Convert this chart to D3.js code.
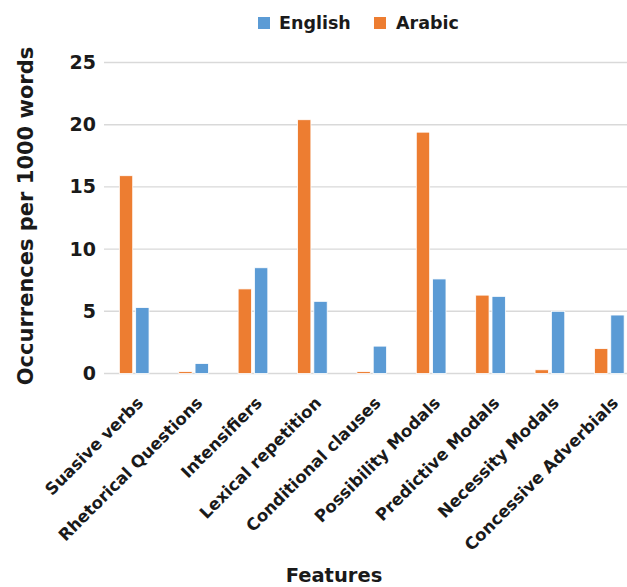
<!DOCTYPE html>
<html>
<head>
<meta charset="utf-8">
<script src="https://cdn.jsdelivr.net/npm/d3@7"></script>
<style>
  body { margin: 0; background: #fff; }
  svg { display: block; font-family: "DejaVu Sans", sans-serif; }
</style>
</head>
<body>
<svg id="chart" width="627" height="587"></svg>
<script>
const features = ['Suasive verbs', 'Rhetorical Questions', 'Intensifiers', 'Lexical repetition',
  'Conditional clauses', 'Possibility Modals', 'Predictive Modals', 'Necessity Modals', 'Concessive Adverbials'];
const arabic = [15.9, 0.15, 6.8, 20.4, 0.15, 19.4, 6.3, 0.3, 2.0];
const english = [5.3, 0.8, 8.5, 5.8, 2.2, 7.6, 6.2, 5.0, 4.7];
const yTicks = [0, 5, 10, 15, 20, 25];
const seriesNames = ['Arabic', 'English'];
const colors = { English: '#5B9BD5', Arabic: '#ED7D31' };

const svg = d3.select('#chart');

const x0 = d3.scaleBand().domain(features).range([104.5, 639]).paddingInner(0.5).paddingOuter(0.25);
const x1 = d3.scaleBand().domain(seriesNames).range([0, x0.bandwidth()]).paddingInner(0.18);
const y = d3.scaleLinear().domain([0, 25]).range([373.5, 62.5]);

// gridlines
svg.append('g')
  .selectAll('line')
  .data(yTicks)
  .enter()
  .append('line')
  .attr('x1', 104)
  .attr('x2', 627)
  .attr('y1', d => y(d))
  .attr('y2', d => y(d))
  .attr('stroke', '#d9d9d9')
  .attr('stroke-width', 1.4);

// y tick labels
const yAxis = svg.append('g')
  .attr('transform', 'translate(96,0)')
  .call(d3.axisLeft(y).tickValues(yTicks).tickSize(0).tickPadding(0));
yAxis.select('.domain').remove();
yAxis.selectAll('text')
  .attr('font-family', '"DejaVu Sans", sans-serif')
  .attr('font-size', 19)
  .attr('font-weight', 'bold')
  .attr('fill', '#1a1a1a');

// bars
const rows = features.map((f, i) => ({ feature: f, Arabic: arabic[i], English: english[i] }));
const groups = svg.append('g')
  .selectAll('g')
  .data(rows)
  .enter()
  .append('g')
  .attr('transform', d => 'translate(' + x0(d.feature) + ',0)');

groups.selectAll('rect')
  .data(d => seriesNames.map(s => ({ series: s, value: d[s] })))
  .enter()
  .append('rect')
  .attr('x', d => x1(d.series))
  .attr('width', x1.bandwidth())
  .attr('y', d => y(d.value))
  .attr('height', d => y(0) - y(d.value))
  .attr('fill', d => colors[d.series])
  .attr('stroke', '#fff')
  .attr('stroke-width', 0.8);

// x labels
svg.append('g')
  .selectAll('text')
  .data(features)
  .enter()
  .append('text')
  .attr('transform', d => 'translate(' + (x0(d) + x0.bandwidth() / 2 + 10) + ',404) rotate(-45)')
  .attr('text-anchor', 'end')
  .attr('font-size', 16.6)
  .attr('font-weight', 'bold')
  .attr('fill', '#1a1a1a')
  .text(d => d);

// axis titles
svg.append('text')
  .attr('transform', 'translate(33,216) rotate(-90)')
  .attr('text-anchor', 'middle')
  .attr('font-size', 21)
  .attr('font-weight', 'bold')
  .attr('fill', '#1a1a1a')
  .text('Occurrences per 1000 words');

svg.append('text')
  .attr('x', 334)
  .attr('y', 582)
  .attr('text-anchor', 'middle')
  .attr('font-size', 19.5)
  .attr('font-weight', 'bold')
  .attr('fill', '#1a1a1a')
  .text('Features');

// legend
const legendItems = [
  { name: 'English', sx: 258, tx: 279 },
  { name: 'Arabic', sx: 374, tx: 396 }
];
const legend = svg.append('g')
  .selectAll('g')
  .data(legendItems)
  .enter()
  .append('g');
legend.append('rect')
  .attr('x', d => d.sx)
  .attr('y', 17)
  .attr('width', 12)
  .attr('height', 12)
  .attr('fill', d => colors[d.name]);
legend.append('text')
  .attr('x', d => d.tx)
  .attr('y', 29)
  .attr('font-size', 17.5)
  .attr('font-weight', 'bold')
  .attr('fill', '#1a1a1a')
  .text(d => d.name);
</script>
</body>
</html>
